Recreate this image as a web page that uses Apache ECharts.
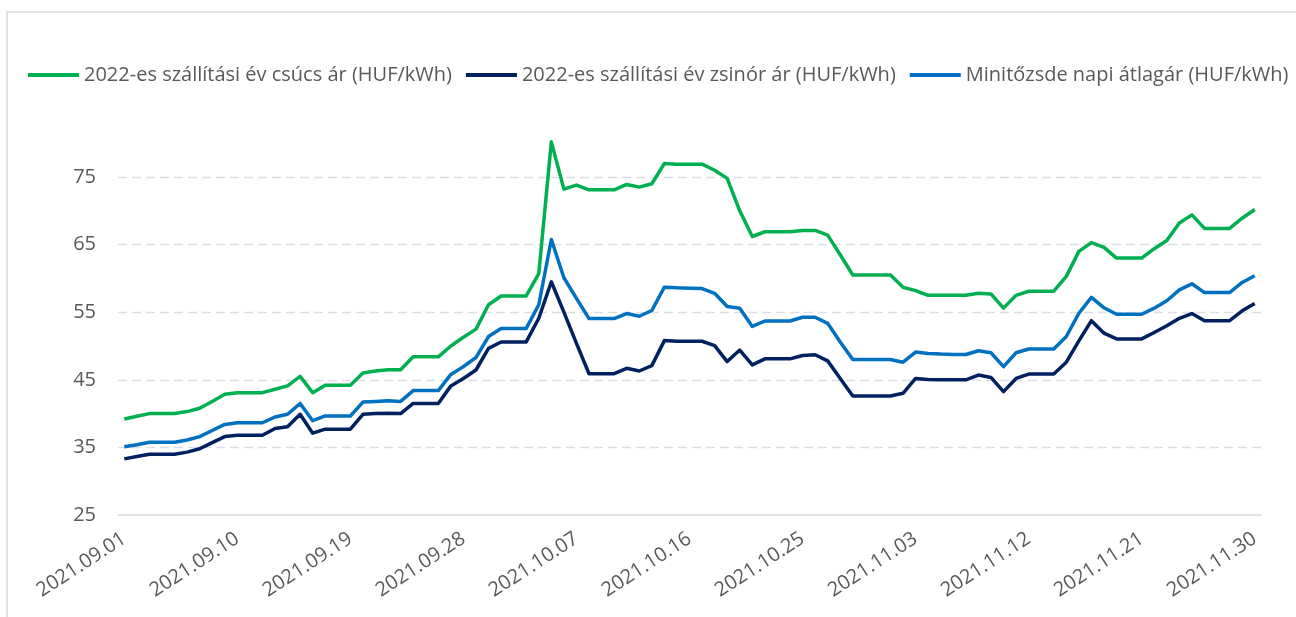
<!DOCTYPE html>
<html>
<head>
<meta charset="utf-8">
<script src="https://cdn.jsdelivr.net/npm/echarts@6/dist/echarts.min.js"></script>
<style>
  html, body { margin: 0; padding: 0; background: #fff; }
  #chart { width: 1296px; height: 617px; }
</style>
</head>
<body>
<div id="chart"></div>
<script>
// napi kategóriák 2021.09.01 - 2021.11.30
const days = [];
for (let d = new Date(2021, 8, 1); d <= new Date(2021, 10, 30); d.setDate(d.getDate() + 1)) {
  const mm = String(d.getMonth() + 1).padStart(2, "0");
  const dd = String(d.getDate()).padStart(2, "0");
  days.push(d.getFullYear() + "." + mm + "." + dd);
}

const seriesNames = [
  "2022-es szállítási év csúcs ár (HUF/kWh)",
  "2022-es szállítási év zsinór ár (HUF/kWh)",
  "Minitőzsde napi átlagár (HUF/kWh)",
];

const peakPrice = [
  39.2, 39.6, 40.0, 40.0, 40.0, 40.3, 40.8, 41.8, 42.85, 43.1,
  43.1, 43.1, 43.6, 44.1, 45.5, 43.1, 44.2, 44.2, 44.2, 46.0,
  46.3, 46.5, 46.5, 48.4, 48.4, 48.4, 50.0, 51.3, 52.5, 56.1,
  57.4, 57.4, 57.4, 60.7, 80.2, 73.2, 73.8, 73.1, 73.1, 73.1,
  73.9, 73.5, 74.0, 77.0, 76.9, 76.9, 76.9, 76.0, 74.8, 70.0,
  66.2, 66.9, 66.9, 66.9, 67.1, 67.1, 66.4, 63.5, 60.5, 60.5,
  60.5, 60.5, 58.7, 58.2, 57.5, 57.5, 57.5, 57.5, 57.8, 57.7,
  55.6, 57.5, 58.1, 58.1, 58.1, 60.3, 64.0, 65.3, 64.6, 63.0,
  63.0, 63.0, 64.4, 65.6, 68.2, 69.4, 67.4, 67.4, 67.4, 68.9,
  70.2,
];

const basePrice = [
  33.3, 33.65, 34.0, 34.0, 34.0, 34.3, 34.8, 35.7, 36.6, 36.8,
  36.8, 36.8, 37.8, 38.05, 39.9, 37.1, 37.7, 37.7, 37.7, 39.9,
  40.0, 40.05, 40.0, 41.5, 41.5, 41.5, 44.1, 45.2, 46.45, 49.65,
  50.6, 50.6, 50.6, 54.1, 59.5, 55.0, 50.4, 45.9, 45.9, 45.9,
  46.7, 46.3, 47.1, 50.8, 50.7, 50.7, 50.7, 50.05, 47.7, 49.4,
  47.2, 48.1, 48.1, 48.1, 48.6, 48.7, 47.8, 45.2, 42.6, 42.6,
  42.6, 42.6, 43.0, 45.2, 45.05, 45.0, 45.0, 45.0, 45.7, 45.35,
  43.25, 45.2, 45.85, 45.85, 45.85, 47.6, 50.75, 53.75, 51.9, 51.05,
  51.05, 51.05, 52.0, 53.0, 54.1, 54.8, 53.75, 53.75, 53.75, 55.2,
  56.3,
];

const dailyAvg = [
  35.1, 35.4, 35.75, 35.75, 35.75, 36.1, 36.6, 37.5, 38.4, 38.65,
  38.65, 38.65, 39.5, 39.9, 41.5, 38.95, 39.65, 39.65, 39.65, 41.7,
  41.8, 41.9, 41.8, 43.4, 43.4, 43.4, 45.8, 46.95, 48.3, 51.4,
  52.6, 52.6, 52.6, 56.1, 65.75, 60.1, 57.05, 54.05, 54.05, 54.05,
  54.8, 54.4, 55.25, 58.7, 58.6, 58.55, 58.5, 57.8, 55.85, 55.6,
  52.9, 53.7, 53.7, 53.7, 54.25, 54.25, 53.35, 50.6, 48.0, 48.0,
  48.0, 48.0, 47.6, 49.1, 48.9, 48.8, 48.75, 48.75, 49.3, 49.0,
  46.95, 49.0, 49.55, 49.55, 49.55, 51.4, 54.85, 57.2, 55.65, 54.7,
  54.7, 54.7, 55.6, 56.7, 58.3, 59.2, 57.9, 57.9, 57.9, 59.4,
  60.4,
];

const chart = echarts.init(document.getElementById("chart"));
const textColor = "#595959";
const font = "'Open Sans', 'Noto Sans', sans-serif";

const option = {
  animation: false,
  color: ["#00B050", "#002060", "#0070C0"],
  textStyle: { fontFamily: font },
  graphic: [
    {
      type: "rect",
      shape: { x: 7, y: 12, width: 1400, height: 700 },
      style: { fill: "none", stroke: "#d9d9d9", lineWidth: 1.5 },
      silent: true,
    },
  ],
  legend: {
    left: 28,
    top: 65,
    width: 1290,
    padding: 0,
    icon: "rect",
    itemWidth: 51,
    itemHeight: 4,
    itemGap: 14,
    textStyle: { color: textColor, fontSize: 20, fontFamily: font },
    data: seriesNames,
  },
  grid: {
    left: 118,
    right: 35,
    top: 109.4,
    bottom: 102,
    containLabel: false,
  },
  xAxis: {
    type: "category",
    boundaryGap: true,
    data: days,
    axisLine: { lineStyle: { color: "#d9d9d9", width: 1.5 } },
    axisTick: { show: false },
    axisLabel: {
      interval: 8,
      rotate: 33,
      margin: 22,
      color: textColor,
      fontSize: 20,
      fontFamily: font,
    },
    splitLine: { show: false },
  },
  yAxis: {
    type: "value",
    min: 25,
    max: 85,
    interval: 10,
    axisLine: { show: false },
    axisTick: { show: false },
    axisLabel: {
      color: textColor,
      fontSize: 20,
      fontFamily: font,
      margin: 22,
      showMaxLabel: false,
    },
    splitLine: {
      showMinLine: false,
      showMaxLine: false,
      lineStyle: { color: "#dcdde6", type: [9, 5], width: 1.4 },
    },
  },
  series: [
    { name: seriesNames[0], type: "line", data: peakPrice },
    { name: seriesNames[1], type: "line", data: basePrice },
    { name: seriesNames[2], type: "line", data: dailyAvg },
  ].map((s) => Object.assign(s, {
    showSymbol: false,
    symbol: "none",
    lineStyle: { width: 3.5, join: "round" },
  })),
};

chart.setOption(option);
window.onresize = () => {
  chart.resize();
};
</script>
</body>
</html>
